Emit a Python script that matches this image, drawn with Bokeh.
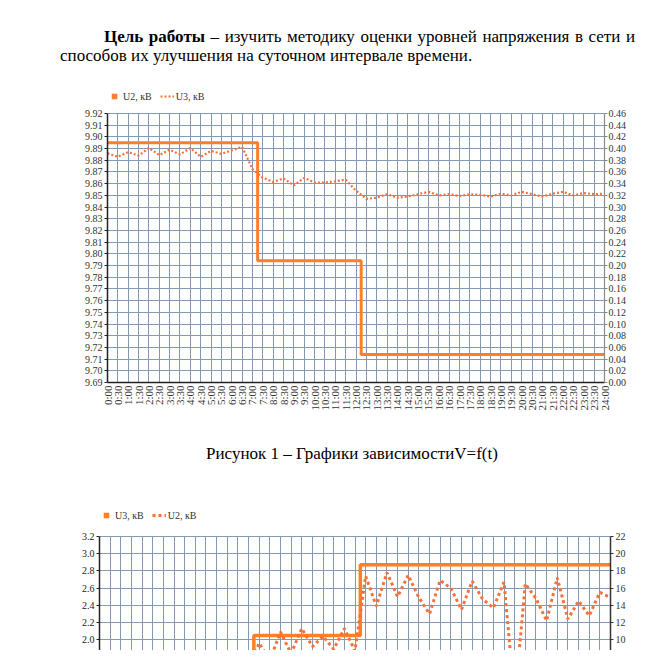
from math import pi
from bokeh.plotting import figure
from bokeh.models import (Range1d, LinearAxis, FixedTicker, PrintfTickFormatter,
                          Legend, LegendItem, Div, ColumnDataSource)
from bokeh.layouts import column, row
from bokeh.embed import file_html
from bokeh.resources import INLINE

# ---------------- data ----------------
TIME_LABELS = ["0:00", "0:30", "1:00", "1:30", "2:00", "2:30", "3:00", "3:30",
               "4:00", "4:30", "5:00", "5:30", "6:00", "6:30", "7:00", "7:30",
               "8:00", "8:30", "9:00", "9:30", "10:00", "10:30", "11:00", "11:30",
               "12:00", "12:30", "13:00", "13:30", "14:00", "14:30", "15:00", "15:30",
               "16:00", "16:30", "17:00", "17:30", "18:00", "18:30", "19:00", "19:30",
               "20:00", "20:30", "21:00", "21:30", "22:00", "22:30", "23:00", "23:30",
               "24:00"]
IDX = list(range(len(TIME_LABELS)))

# Chart 1: U2 (left axis, kV), U3 (right axis, kV)
C1_U2 = [9.895, 9.895, 9.895, 9.895, 9.895, 9.895, 9.895, 9.895, 9.895, 9.895,
         9.895, 9.895, 9.895, 9.895, 9.895,
         9.794, 9.794, 9.794, 9.794, 9.794, 9.794, 9.794, 9.794, 9.794, 9.794,
         9.714, 9.714, 9.714, 9.714, 9.714, 9.714, 9.714, 9.714, 9.714, 9.714,
         9.714, 9.714, 9.714, 9.714, 9.714, 9.714, 9.714, 9.714, 9.714, 9.714,
         9.714, 9.714, 9.714, 9.714]
C1_U3 = [0.392, 0.386, 0.394, 0.388, 0.401, 0.389, 0.398, 0.390, 0.401, 0.386,
         0.396, 0.391, 0.397, 0.403, 0.365,
         0.350, 0.343, 0.349, 0.337, 0.350, 0.342, 0.342, 0.344, 0.347, 0.328,
         0.314, 0.316, 0.322, 0.316, 0.318, 0.322, 0.326, 0.320, 0.322, 0.319,
         0.322, 0.321, 0.318, 0.323, 0.320, 0.326, 0.322, 0.318, 0.323, 0.326,
         0.320, 0.324, 0.322, 0.323]

# Chart 2: U3 (left axis), U2 (right axis)
C2_U3 = [1.45, 1.45, 1.45, 1.45, 1.45, 1.45, 1.45, 1.45, 1.45, 1.45,
         1.45, 1.45, 1.45, 1.45, 1.45,
         2.05, 2.05, 2.05, 2.05, 2.05, 2.05, 2.05, 2.05, 2.05, 2.05,
         2.87, 2.87, 2.87, 2.87, 2.87, 2.87, 2.87, 2.87, 2.87, 2.87,
         2.87, 2.87, 2.87, 2.87, 2.87, 2.87, 2.87, 2.87, 2.87, 2.87,
         2.87, 2.87, 2.87, 2.87]
C2_U2 = [5.6, 5.4, 5.8, 5.5, 5.9, 5.3, 5.7, 5.6, 5.4, 5.8, 5.5, 5.9, 5.6, 5.7,
         6.8, 9.6, 7.6, 10.9, 8.4, 11.3, 9.2, 10.4, 8.9, 11.3, 8.7,
         17.4, 13.9, 17.8, 15.0, 17.5, 14.9, 13.0, 16.9, 16.0, 13.5,
         16.8, 14.7, 13.7, 16.7, 3.0, 16.5, 14.8, 12.2, 17.2, 12.4,
         14.5, 12.8, 15.5, 14.9]

C1_LEFT_TICKS = [round(9.69 + 0.01 * i, 2) for i in range(24)]
C1_RIGHT_TICKS = [round(0.02 * i, 2) for i in range(24)]
C2_LEFT_TICKS = [1.8, 2.0, 2.2, 2.4, 2.6, 2.8, 3.0, 3.2]
C2_RIGHT_TICKS = [8, 10, 12, 14, 16, 18, 20, 22]

LEGEND1 = ["U2, кВ", "U3, кВ"]
LEGEND2 = ["U3, кВ", "U2, кВ"]

TEXT_BOLD = "Цель работы"
TEXT_LINE1 = " – изучить методику оценки уровней напряжения в сети и"
TEXT_LINE2 = "способов их улучшения на суточном интервале времени."
CAPTION = "Рисунок 1 – Графики зависимостиV=f(t)"

# ---------------- style ----------------
SOLID = "#ff7f27"
DOTC = "#f4713a"
GRID = "#8598b6"
FONT = "Liberation Serif"
LABEL = "#333333"


def style_axis(ax, line_color, size="10px", tick_out=3, lw=1.5):
    ax.axis_line_color = line_color
    ax.axis_line_width = lw
    ax.major_tick_line_color = line_color
    ax.major_tick_out = tick_out
    ax.major_tick_in = 0
    ax.minor_tick_line_color = None
    ax.major_label_text_font = FONT
    ax.major_label_text_font_size = size
    ax.major_label_text_color = LABEL
    ax.major_label_standoff = 2


def make_legend(items, loc):
    return Legend(items=items, orientation="horizontal", location=loc,
                  glyph_width=14, glyph_height=16, label_height=16,
                  label_standoff=2, spacing=8, padding=0, margin=0,
                  border_line_color=None, background_fill_alpha=0,
                  label_text_font=FONT, label_text_font_size="10px",
                  label_text_color=LABEL)


# ---------------- chart 1 ----------------
src1 = ColumnDataSource(dict(x=IDX, u2=C1_U2, u3=C1_U3))
p1 = figure(width=650, height=350, x_range=Range1d(0, 48),
            y_range=Range1d(9.69, 9.9439),
            output_backend="svg", toolbar_location=None,
            min_border_left=107, min_border_right=46, min_border_top=8, min_border_bottom=45)
p1.outline_line_color = None
p1.extra_y_ranges = {"r": Range1d(0, 0.5079)}

p1.xaxis.ticker = FixedTicker(ticks=IDX)
p1.xaxis.major_label_overrides = {i: t for i, t in enumerate(TIME_LABELS)}
p1.xaxis.major_label_orientation = pi / 2
style_axis(p1.xaxis[0], "#222222", size="11px", tick_out=0)
p1.xaxis.major_label_standoff = 3

p1.yaxis.ticker = FixedTicker(ticks=C1_LEFT_TICKS)
p1.yaxis.formatter = PrintfTickFormatter(format="%.2f")
p1.yaxis.bounds = (9.69, 9.92)
style_axis(p1.yaxis[0], "#222222")

ax1r = LinearAxis(y_range_name="r", ticker=FixedTicker(ticks=C1_RIGHT_TICKS),
                  formatter=PrintfTickFormatter(format="%.2f"), bounds=(0, 0.46))
style_axis(ax1r, "#8a8a8a", lw=1.2)
ax1r.major_label_standoff = 1
p1.add_layout(ax1r, "right")

p1.xgrid.cross_bounds = (9.69, 9.92)
for g in (p1.xgrid[0], p1.ygrid[0]):
    g.grid_line_color = GRID
    g.grid_line_width = 1

r1a = p1.step("x", "u2", source=src1, mode="center", line_color=SOLID, line_width=3)
r1b = p1.line("x", "u3", source=src1, y_range_name="r", line_color=DOTC,
              line_width=2.2, line_dash="2 2")
sq1 = p1.scatter("x", "u2", source=src1, marker="square", size=0,
                 fill_color=SOLID, line_color=None)
lg1 = make_legend([LegendItem(label=LEGEND1[0], renderers=[sq1]),
                   LegendItem(label=LEGEND1[1], renderers=[r1b])], (0, 278))
p1.add_layout(lg1)

# ---------------- chart 2 ----------------
src2 = ColumnDataSource(dict(x=IDX, u3=C2_U3, u2=C2_U2))
p2 = figure(width=650, height=162, x_range=Range1d(0, 48), y_range=Range1d(1.8744, 3.572),
            output_backend="svg", toolbar_location=None, x_axis_location=None,
            min_border_left=99, min_border_right=40, min_border_top=16, min_border_bottom=0)
p2.outline_line_color = None
p2.extra_y_ranges = {"r": Range1d(8.744, 25.72)}
p2.xgrid.ticker = FixedTicker(ticks=IDX)
p2.xgrid.cross_bounds = (1.8, 3.2)
p2.yaxis.ticker = FixedTicker(ticks=C2_LEFT_TICKS)
p2.yaxis.formatter = PrintfTickFormatter(format="%.1f")
p2.yaxis.bounds = (1.8, 3.2)
style_axis(p2.yaxis[0], "#222222")
p2.yaxis.major_label_text_color = "#222222"
ax2r = LinearAxis(y_range_name="r", ticker=FixedTicker(ticks=C2_RIGHT_TICKS),
                  formatter=PrintfTickFormatter(format="%d"), bounds=(8, 22))
style_axis(ax2r, "#333333", lw=1.5)
p2.add_layout(ax2r, "right")
for g in (p2.xgrid[0], p2.ygrid[0]):
    g.grid_line_color = GRID
    g.grid_line_width = 1

r2a = p2.step("x", "u3", source=src2, mode="center", line_color=SOLID, line_width=3.5)
r2b = p2.line("x", "u2", source=src2, y_range_name="r", line_color=DOTC,
              line_width=3, line_dash="3 3")
sq2 = p2.scatter("x", "u3", source=src2, marker="square", size=0,
                 fill_color=SOLID, line_color=None)
lg2 = make_legend([LegendItem(label=LEGEND2[0], renderers=[sq2]),
                   LegendItem(label=LEGEND2[1], renderers=[r2b])], (0, 127))
p2.add_layout(lg2)

# ---------------- text ----------------
font_css = "font-family:'Liberation Serif',serif;font-size:17px;line-height:19px;color:#000;"
html1 = (f'<div style="{font_css}padding-top:22px;margin:0;">'
         f'<div style="margin-left:99px;width:531px;text-align:justify;text-align-last:justify;white-space:nowrap;">'
         f'<b>{TEXT_BOLD}</b>{TEXT_LINE1}</div>'
         f'<div style="margin-left:55px;">{TEXT_LINE2}</div></div>')
div1 = Div(text=html1, width=650, height=67)
html2 = (f'<div style="{font_css}padding-top:12px;padding-left:44px;width:650px;text-align:center;">'
         f'{CAPTION}</div>')
div2 = Div(text=html2, width=650, height=51)

layout = column(div1, row(p1), div2, row(p2), spacing=0)
open("out.html", "w").write(file_html(layout, INLINE))
